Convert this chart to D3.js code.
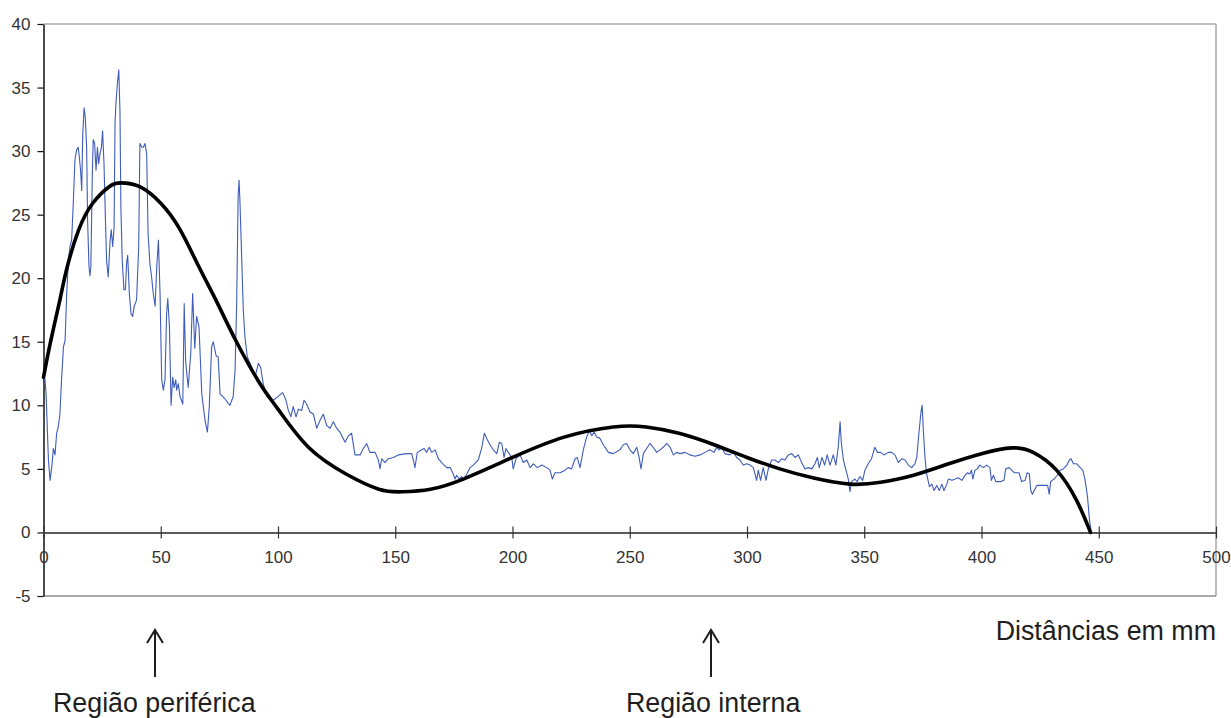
<!DOCTYPE html>
<html><head><meta charset="utf-8">
<script src="https://cdn.jsdelivr.net/npm/d3@7"></script>
<style>
body{margin:0;background:#fff}
svg{display:block}
text{font-family:"Liberation Sans",Arial,sans-serif}
</style>
</head><body>
<svg id="chart" width="1231" height="718"></svg>
<script>
// ---- data ----
const profileX = [0.0,0.6,1.1,2.1,2.8,3.5,4.2,4.9,5.6,6.3,7.0,7.7,8.5,9.2,9.9,10.6,11.3,12.0,12.7,13.4,14.1,14.8,15.3,15.8,16.3,16.7,17.3,17.8,18.4,18.8,19.4,19.8,20.2,20.8,21.2,21.8,22.4,23.0,23.5,24.1,24.7,25.2,25.8,26.5,26.9,27.6,28.4,28.9,29.5,30.1,30.5,30.9,31.5,32.1,32.6,33.0,33.6,34.3,34.9,35.5,35.9,36.6,37.3,38.0,38.7,39.7,40.6,41.1,41.9,42.6,43.3,44.0,44.6,45.4,46.1,46.8,47.6,48.3,49.0,49.7,50.4,51.1,51.8,52.5,
53.0,53.7,54.4,55.1,55.7,56.4,56.8,57.5,58.2,59.4,60.0,60.6,61.7,62.8,63.6,64.5,65.3,66.3,67.5,68.9,69.9,70.7,71.7,72.4,73.6,74.5,75.3,77.4,79.5,80.9,81.7,82.4,83.0,83.4,83.8,84.5,85.2,85.9,86.9,88.8,90.2,91.6,92.6,93.7,95.2,98.0,100.1,102.0,103.4,104.4,105.5,106.5,107.7,108.7,110.1,111.1,112.2,113.6,115.1,116.5,117.9,119.3,120.8,122.2,123.6,125.0,126.4,128.6,130.0,131.4,132.8,135.0,136.4,137.8,139.2,141.4,142.8,143.5,144.2,145.6,147.0,149.2,151.3,154.9,157.0,157.7,158.4,159.4,161.3,162.3,163.4,164.5,165.5,167.0,168.4,169.8,171.9,173.4,174.5,175.5,176.2,177.3,178.3,179.0,180.5,181.9,183.3,185.4,186.8,188.0,189.0,190.4,191.8,193.3,194.4,195.4,196.4,197.2,198.2,199.7,200.3,201.5,203.2,204.6,206.1,207.5,208.9,210.6,212.5,214.6,216.0,217.0,218.1,220.3,222.4,223.8,225.2,226.7,227.6,228.8,230.2,231.6,232.7,233.8,234.8,235.9,237.3,238.7,240.9,243.0,
245.8,247.3,248.7,250.1,251.5,253.0,254.0,254.8,255.8,257.2,258.6,260.0,261.5,262.9,264.3,265.8,267.2,268.6,270.0,271.5,273.6,275.7,277.8,280.0,282.1,284.2,285.9,287.1,288.1,289.2,290.6,292.7,294.2,295.6,297.0,298.4,299.9,301.3,302.7,304.1,304.8,305.8,306.9,308.1,309.1,310.5,311.9,313.4,314.8,316.2,317.6,319.1,320.5,321.9,323.3,324.7,326.1,327.6,329.0,330.0,330.8,332.0,333.1,334.2,335.4,336.8,337.9,338.9,339.7,340.2,341.1,342.2,343.2,343.9,344.6,346.0,347.0,348.2,349.3,350.3,351.7,353.1,354.5,355.6,357.0,358.4,360.3,361.7,363.1,364.5,366.0,367.4,368.8,370.2,371.6,372.4,373.3,374.2,374.7,375.2,375.9,376.6,377.8,378.8,379.8,380.9,382.0,383.1,384.0,
385.2,385.9,387.4,388.8,390.1,391.6,393.0,394.1,395.0,395.7,396.3,397.2,398.2,399.3,400.8,402.2,403.6,404.2,405.1,406.1,408.2,409.6,410.3,411.7,412.9,413.9,416.0,417.1,418.6,419.5,420.4,421.0,421.7,423.6,425.1,427.1,428.2,428.9,429.5,430.9,432.3,433.5,434.9,436.4,437.5,438.2,439.2,440.6,442.1,443.2,444.2,445.2,446.1,446.7];
const profileY = [12.0,12.1,10.9,5.7,4.1,5.1,6.6,6.1,7.8,8.3,9.3,12.0,14.6,15.1,18.8,21.4,22.5,23.0,25.9,29.3,30.1,30.3,29.5,28.5,26.9,31.1,33.4,32.7,30.3,24.6,20.9,20.2,20.9,28.0,30.9,30.6,28.5,30.3,29.0,29.8,30.3,31.6,29.0,24.0,21.4,20.1,23.0,23.8,22.5,24.0,32.2,33.8,35.3,36.4,33.2,25.6,21.3,19.1,19.1,21.3,21.8,18.8,17.2,17.0,17.8,18.3,22.5,30.6,30.3,30.3,30.6,29.8,23.5,21.1,20.1,18.8,17.8,20.9,23.0,18.8,12.0,11.2,12.0,17.2,
18.4,16.2,10.0,12.2,11.4,12.0,11.2,11.7,10.7,10.1,18.0,13.5,11.4,14.1,18.8,14.5,17.0,16.2,10.9,8.8,7.9,9.9,14.6,15.0,13.9,13.8,10.9,10.5,10.0,10.7,12.8,18.3,26.5,27.7,25.9,21.7,17.5,15.4,13.8,13.0,12.2,13.3,13.0,11.7,10.7,10.4,10.7,11.0,10.4,9.6,9.1,9.9,9.1,9.7,9.6,10.4,10.1,9.5,9.3,8.2,8.8,9.3,8.4,8.2,8.7,8.2,7.9,7.1,7.6,7.8,6.1,6.1,6.6,7.0,6.3,6.3,5.7,5.0,5.8,5.5,5.8,5.9,6.1,6.2,6.2,5.7,5.1,6.3,6.5,6.6,6.3,6.7,6.3,6.5,5.8,5.5,5.1,5.1,4.7,4.2,4.5,4.2,4.4,4.1,4.6,5.1,5.3,5.7,6.6,7.8,7.4,6.9,6.5,6.2,7.1,7.0,5.9,6.6,6.3,5.9,5.0,5.8,6.1,5.5,5.7,5.1,5.4,5.1,5.3,5.1,4.9,4.2,4.7,4.7,4.9,5.1,5.0,5.8,5.9,5.1,6.5,7.5,8.0,7.6,7.9,7.5,7.4,6.9,6.3,6.2,
6.5,6.9,7.0,6.5,6.2,6.7,5.9,5.0,6.2,6.6,7.0,6.7,6.3,6.5,6.7,7.0,6.7,6.1,6.3,6.2,6.3,6.1,6.0,6.1,6.3,6.5,6.3,6.7,6.5,6.7,6.2,6.1,6.3,5.9,5.7,5.3,5.4,5.3,5.1,4.1,4.9,4.1,5.1,4.1,5.0,5.7,5.7,5.5,5.8,5.7,6.1,6.2,5.9,6.1,5.5,5.0,5.1,5.0,5.4,5.9,5.1,5.9,5.3,6.1,5.3,6.1,5.3,6.7,8.7,7.1,5.7,4.9,4.2,3.2,4.0,4.2,4.0,4.4,4.1,4.9,5.4,5.8,6.7,6.3,6.3,6.1,6.3,6.3,6.1,5.5,5.8,5.7,5.3,5.1,5.4,5.9,7.8,9.5,10.0,8.0,5.9,4.6,3.6,3.8,3.3,3.7,3.3,3.8,3.3,
3.8,4.2,4.1,4.2,4.3,4.1,4.5,4.7,4.6,4.9,4.2,4.9,5.0,5.3,5.1,5.3,5.1,4.1,4.5,4.0,4.0,4.1,5.0,5.1,4.9,4.7,4.7,4.0,4.1,4.7,4.6,3.3,3.0,3.7,3.7,3.7,3.7,3.0,4.0,4.2,4.5,4.9,5.0,5.3,5.7,5.8,5.4,5.4,5.1,4.9,4.1,2.8,0.9,0.2];

const trendX = [0,3,7,10,15,21,28,33,41,50,58,66,74,82,92,100,113,129,143,153,165,179,200,222,243,257,271,286,300,314,328,344,357,371,386,400,413,422,432,440.6,446.5];
const trendY = [12.2,15.0,18.3,20.8,23.8,25.9,27.2,27.5,27.2,25.9,23.9,21.0,18.1,15.1,11.8,9.7,6.7,4.6,3.4,3.2,3.4,4.2,5.9,7.5,8.3,8.3,7.8,6.9,5.9,5.0,4.3,3.8,3.95,4.5,5.4,6.2,6.65,6.3,4.9,2.5,0];

const xTicks = [0,50,100,150,200,250,300,350,400,450,500];
const yTicks = [-5,0,5,10,15,20,25,30,35,40];
const xTitle = "Distâncias em mm";
const regionLabels = ["Região periférica", "Região interna"];

// ---- drawing ----
const svg = d3.select("#chart");
const x = d3.scaleLinear().domain([0, 500]).range([43.5, 1216]);
const y = d3.scaleLinear().domain([-5, 40]).range([596, 24]);
const fmt = d => String(d).replace("\u2212", "-");

// frame (top, right, bottom)
const frame = svg.append("g").attr("stroke", "#a8a8a8").attr("stroke-width", 1.5).attr("fill", "none");
frame.append("line").attr("x1", x(0)).attr("x2", x(500)).attr("y1", y(40)).attr("y2", y(40));
frame.append("line").attr("x1", x(500)).attr("x2", x(500)).attr("y1", y(40)).attr("y2", y(-5));
frame.append("line").attr("x1", x(0)).attr("x2", x(500)).attr("y1", y(-5)).attr("y2", y(-5)).attr("stroke", "#8c8c8c");

// y axis
const yAxis = svg.append("g").attr("transform", `translate(${x(0)},0)`)
  .call(d3.axisLeft(y).tickValues(yTicks).tickFormat(fmt).tickSize(6).tickPadding(7).tickSizeOuter(0));
yAxis.select(".domain").attr("stroke", "#111").attr("stroke-width", 1.5);
yAxis.selectAll(".tick line").attr("stroke", "#111").attr("stroke-width", 1.2);
yAxis.selectAll(".tick text").attr("font-size", 17).attr("fill", "#333")
  .attr("font-family", "Liberation Sans, Arial, sans-serif");

// x axis at y = 0
const xAxis = svg.append("g").attr("transform", `translate(0,${y(0)})`)
  .call(d3.axisBottom(x).tickValues(xTicks).tickFormat(fmt).tickSize(6).tickPadding(12).tickSizeOuter(0));
xAxis.select(".domain").attr("stroke", "#5a5a5a").attr("stroke-width", 2);
xAxis.selectAll(".tick line").attr("y1", -6).attr("stroke", "#333").attr("stroke-width", 1.2);
xAxis.selectAll(".tick text").attr("font-size", 17).attr("fill", "#333")
  .attr("font-family", "Liberation Sans, Arial, sans-serif");

// profile line
const profile = profileX.map((d, i) => [d, profileY[i]]);
svg.append("path").datum(profile)
  .attr("fill", "none").attr("stroke", "#3f5cbb").attr("stroke-width", 1.1)
  .attr("stroke-linejoin", "round")
  .attr("d", d3.line().x(d => x(d[0])).y(d => y(d[1])));

// trend line
const trend = trendX.map((d, i) => [d, trendY[i]]);
svg.append("path").datum(trend)
  .attr("fill", "none").attr("stroke", "#000").attr("stroke-width", 3.6)
  .attr("stroke-linecap", "round")
  .attr("d", d3.line().x(d => x(d[0])).y(d => y(d[1])).curve(d3.curveNatural));

// axis title
svg.append("text").attr("x", 1216).attr("y", 640).attr("text-anchor", "end")
  .attr("font-size", 26.8).attr("fill", "#1e1e1e").text(xTitle);

// region arrows + labels
const arrowsX = [155, 711];
const labelsX = [53, 626];
regionLabels.forEach((lab, i) => {
  const ax = arrowsX[i];
  svg.append("path")
    .attr("d", `M${ax},677 L${ax},630 M${ax - 8},643 L${ax},630 L${ax + 8},643`)
    .attr("fill", "none").attr("stroke", "#1e1e1e").attr("stroke-width", 2);
  svg.append("text").attr("x", labelsX[i]).attr("y", 712)
    .attr("font-size", 26.8).attr("fill", "#1e1e1e").text(lab);
});
</script>
</body></html>
